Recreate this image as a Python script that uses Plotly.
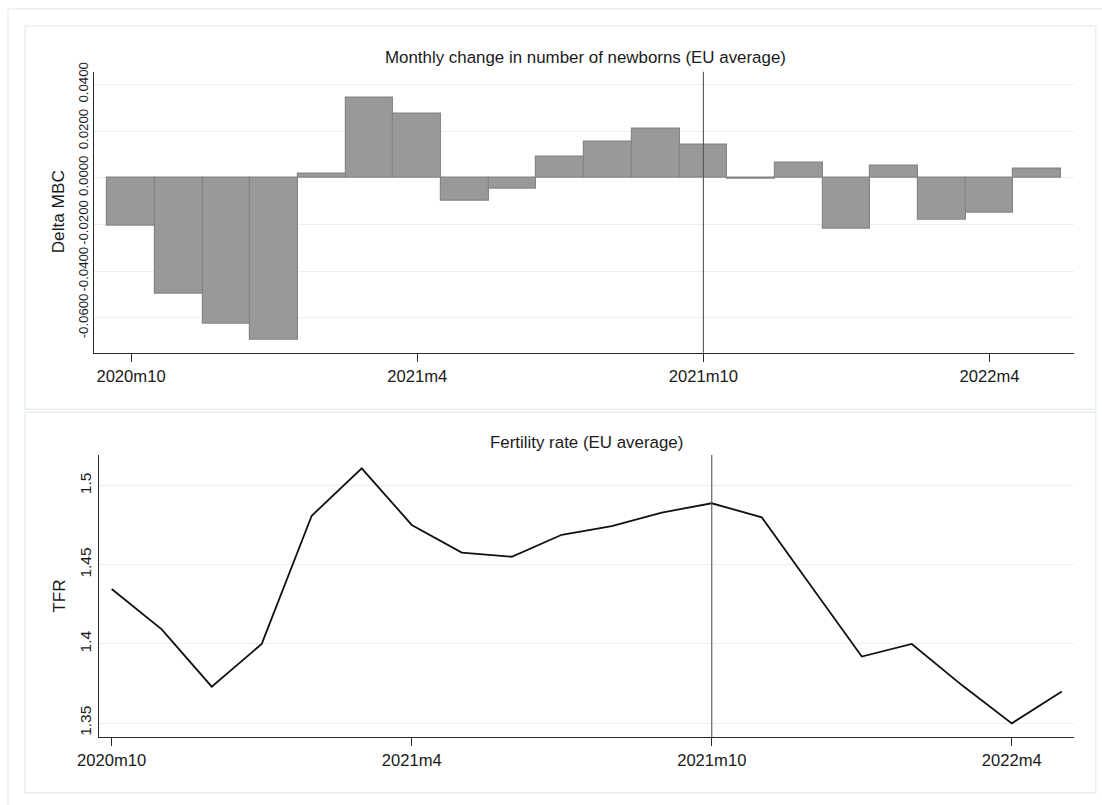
import plotly.graph_objects as go

# ---------------- data ----------------
months = ["2020m10", "2020m11", "2020m12", "2021m1", "2021m2", "2021m3",
          "2021m4", "2021m5", "2021m6", "2021m7", "2021m8", "2021m9",
          "2021m10", "2021m11", "2021m12", "2022m1", "2022m2", "2022m3",
          "2022m4", "2022m5"]

delta_mbc = [-0.0206, -0.0495, -0.0625, -0.0695, 0.0019, 0.0343, 0.0273,
             -0.0100, -0.0048, 0.0092, 0.0153, 0.0211, 0.0141, -0.0005,
             0.0066, -0.0220, 0.0050, -0.0178, -0.0151, 0.0040]

tfr = [1.4347, 1.4092, 1.3730, 1.4000, 1.4810, 1.5110, 1.4752, 1.4577,
       1.4551, 1.4690, 1.4745, 1.4830, 1.4889, 1.4800, 1.4360, 1.3920,
       1.4000, 1.3740, 1.3498, 1.3700]

x_tick_labels = ["2020m10", "2021m4", "2021m10", "2022m4"]
reference_month = "2021m10"

top_y_ticks = [-0.06, -0.04, -0.02, 0.0, 0.02, 0.04]
top_y_text = ["-0.0600", "-0.0400", "-0.0200", "0.0000", "0.0200", "0.0400"]
bot_y_ticks = [1.35, 1.40, 1.45, 1.50]
bot_y_text = ["1.35", "1.4", "1.45", "1.5"]

title_top = "Monthly change in number of newborns (EU average)"
title_bot = "Fertility rate (EU average)"
ytitle_top = "Delta MBC"
ytitle_bot = "TFR"

# ---------------- layout helpers ----------------
W, H = 1102, 805
idx = list(range(len(months)))
tick_idx = [months.index(m) for m in x_tick_labels]
ref_idx = months.index(reference_month)


def px(x):
    return x / W


def py(y):
    return 1 - y / H


FONT = "Liberation Sans, Arial, sans-serif"
TXT = "#1a1a1a"
GRID = "#e6eff2"
FRAME = "#eaeff2"
AXIS = "#2a2a2a"

fig = go.Figure()

fig.add_trace(go.Bar(
    x=idx, y=delta_mbc, width=1.0,
    marker=dict(color="#999999", line=dict(color="#858585", width=1.2)),
    xaxis="x", yaxis="y", showlegend=False, hoverinfo="x+y"))

fig.add_trace(go.Scatter(
    x=idx, y=tfr, mode="lines",
    line=dict(color="#111111", width=1.8),
    xaxis="x2", yaxis="y2", showlegend=False))

common_x = dict(
    tickmode="array", tickvals=tick_idx, ticktext=x_tick_labels,
    showgrid=False, zeroline=False, showline=True, linecolor=AXIS, linewidth=1.2,
    ticks="outside", ticklen=8, tickwidth=1.2, tickcolor=AXIS, automargin=False,
    tickfont=dict(family=FONT, size=16.6, color=TXT), fixedrange=True)

common_y = dict(
    tickmode="array", showgrid=True, gridcolor=GRID, gridwidth=1.2,
    zeroline=False, showline=True, linecolor=AXIS, linewidth=1.2,
    ticks="", tickangle=-90, fixedrange=True, automargin=False)

fig.update_layout(
    width=W, height=H, autosize=False,
    margin=dict(l=0, r=0, t=0, b=0, pad=0, autoexpand=False),
    paper_bgcolor="white", plot_bgcolor="white",
    bargap=0,
    xaxis=dict(domain=[px(94), px(1074)], range=[-0.776, 19.77],
               anchor="y", **common_x),
    yaxis=dict(domain=[py(352.7), py(71.7)], range=[-0.0749, 0.0454],
               anchor="x", tickvals=top_y_ticks, ticktext=top_y_text,
               tickfont=dict(family=FONT, size=13.2, color=TXT), **common_y),
    xaxis2=dict(domain=[px(98.7), px(1074.3)], range=[-0.26, 19.25],
                anchor="y2", **common_x),
    yaxis2=dict(domain=[py(737.3), py(455)], range=[1.341, 1.5194],
                anchor="x2", tickvals=bot_y_ticks, ticktext=bot_y_text,
                tickfont=dict(family=FONT, size=15.5, color=TXT), **common_y),
)

shapes = []
# outer frame (partially visible)
shapes.append(dict(type="line", xref="paper", yref="paper",
                   x0=px(8), x1=1, y0=py(9), y1=py(9),
                   line=dict(color=FRAME, width=1.5)))
shapes.append(dict(type="line", xref="paper", yref="paper",
                   x0=px(8), x1=px(8), y0=py(9), y1=0,
                   line=dict(color=FRAME, width=1.5)))
# panel frames
for (y0, y1) in [(26, 409.3), (412, 792.7)]:
    shapes.append(dict(type="rect", xref="paper", yref="paper",
                       x0=px(25), x1=px(1095.7), y0=py(y1), y1=py(y0),
                       line=dict(color=FRAME, width=1.5), fillcolor="rgba(0,0,0,0)",
                       layer="below"))
# reference vertical lines
shapes.append(dict(type="line", xref="x", yref="y domain",
                   x0=ref_idx, x1=ref_idx, y0=0, y1=1,
                   line=dict(color="#555555", width=1.1)))
shapes.append(dict(type="line", xref="x2", yref="y2 domain",
                   x0=ref_idx, x1=ref_idx, y0=0, y1=1,
                   line=dict(color="#555555", width=1.1)))
fig.update_layout(shapes=shapes)

annotations = [
    dict(text=title_top, x=px(585), y=py(58), xref="paper", yref="paper",
         showarrow=False, xanchor="center", yanchor="middle",
         font=dict(family=FONT, size=16.9, color=TXT)),
    dict(text=title_bot, x=px(586.5), y=py(442.7), xref="paper", yref="paper",
         showarrow=False, xanchor="center", yanchor="middle",
         font=dict(family=FONT, size=16.9, color=TXT)),
    dict(text=ytitle_top, x=px(58.3), y=py(212), xref="paper", yref="paper",
         showarrow=False, xanchor="center", yanchor="middle", textangle=-90,
         font=dict(family=FONT, size=17.2, color=TXT)),
    dict(text=ytitle_bot, x=px(58.3), y=py(596.5), xref="paper", yref="paper",
         showarrow=False, xanchor="center", yanchor="middle", textangle=-90,
         font=dict(family=FONT, size=17.2, color=TXT)),
]
fig.update_layout(annotations=annotations)

fig.write_html("out.html")
